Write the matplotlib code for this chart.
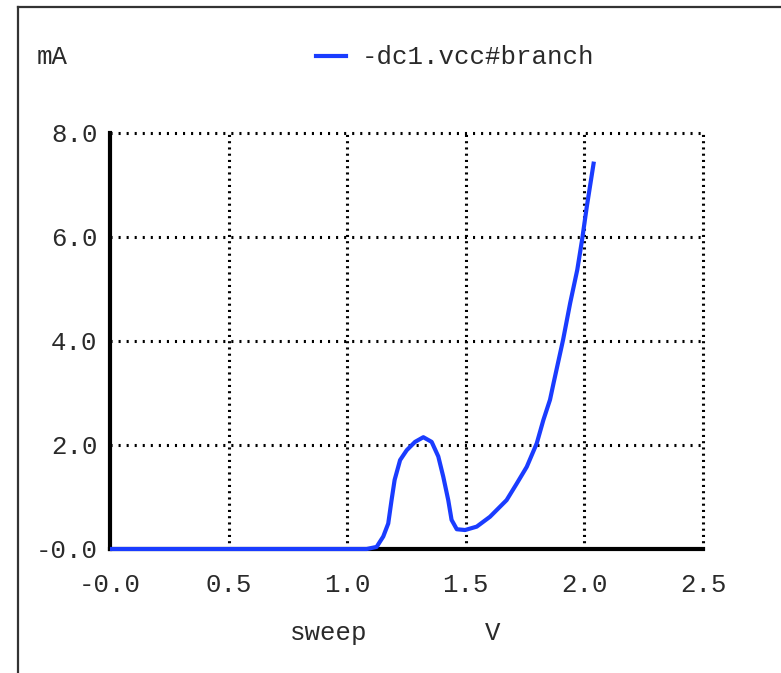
import matplotlib
matplotlib.use("Agg")
import matplotlib.pyplot as plt
from matplotlib.lines import Line2D

plt.rcParams['lines.scale_dashes'] = False

# DC sweep: supply voltage (V) vs. branch current (mA)
sweep_v = [0.00, 1.05, 1.082, 1.124, 1.152, 1.173, 1.187, 1.20, 1.223, 1.251,
           1.286, 1.321, 1.356, 1.384, 1.405, 1.426, 1.44, 1.462, 1.497,
           1.546, 1.602, 1.672, 1.715, 1.757, 1.799, 1.827, 1.855, 1.87,
           1.91, 1.94, 1.97, 1.99, 2.01, 2.04]
branch_ma = [0.00, 0.00, 0.00, 0.04, 0.24, 0.49, 0.94, 1.33, 1.71, 1.90,
             2.06, 2.15, 2.06, 1.78, 1.39, 0.94, 0.56, 0.38, 0.365,
             0.43, 0.62, 0.94, 1.26, 1.58, 2.03, 2.48, 2.87, 3.19,
             4.02, 4.73, 5.37, 5.94, 6.58, 7.45]

x_ticks = [0.0, 0.5, 1.0, 1.5, 2.0, 2.5]
x_tick_labels = ["-0.0", "0.5", "1.0", "1.5", "2.0", "2.5"]
y_ticks = [0.0, 2.0, 4.0, 6.0, 8.0]
y_tick_labels = ["-0.0", "2.0", "4.0", "6.0", "8.0"]

series_name = "-dc1.vcc#branch"
y_unit = "mA"
x_name = "sweep"
x_unit = "V"

W, H = 781, 673
font = "Liberation Mono"
fs = 18.5
txt = "#2a2a2a"
blue = "#1a3cff"

fig = plt.figure(figsize=(W / 100, H / 100), dpi=100)
fig.patch.set_facecolor("white")

# window frame
fig.add_artist(Line2D([18 / W, 18 / W], [0, 1 - 7 / H], transform=fig.transFigure,
                      color="#333333", lw=1.6))
fig.add_artist(Line2D([18 / W, 1], [1 - 7 / H, 1 - 7 / H], transform=fig.transFigure,
                      color="#333333", lw=1.6))

ax = fig.add_axes([110 / W, 1 - 549 / H, (703 - 110) / W, (549 - 133) / H])
ax.set_xlim(0, 2.5)
ax.set_ylim(0, 8.0)

# dotted grid, including the top and right edges
for xv in x_ticks[1:]:
    ax.plot([xv, xv], [0, 8.0], color="black", lw=2.2,
            linestyle=(0, (1.5, 3.0)), zorder=1, clip_on=False,
            dash_capstyle="butt")
for yv in y_ticks[1:]:
    ax.plot([0, 2.5], [yv, yv], color="black", lw=2.2,
            linestyle=(0, (1.5, 4.3)), zorder=1, clip_on=False,
            dash_capstyle="butt")

for s in ["top", "right"]:
    ax.spines[s].set_visible(False)
for s in ["left", "bottom"]:
    ax.spines[s].set_linewidth(3.0)
    ax.spines[s].set_color("black")
    ax.spines[s].set_zorder(2)

ax.plot(sweep_v, branch_ma, color=blue, lw=3.0, zorder=3, clip_on=False,
        solid_joinstyle="round", solid_capstyle="butt")

ax.set_xticks(x_ticks)
ax.set_xticklabels(x_tick_labels, fontfamily=font, fontsize=fs, color=txt)
ax.set_yticks(y_ticks)
ax.set_yticklabels(y_tick_labels, fontfamily=font, fontsize=fs, color=txt)
ax.tick_params(axis="y", length=0, pad=9)
ax.tick_params(axis="x", length=0, pad=17)

# header: unit and legend
fig.text(37 / W, 1 - 57 / H, y_unit, fontfamily=font, fontsize=fs,
         color=txt, va="center", ha="left")
fig.add_artist(Line2D([316 / W, 346 / W], [1 - 56 / H, 1 - 56 / H],
                      transform=fig.transFigure, color=blue, lw=3.0))
fig.text(362 / W, 1 - 57 / H, series_name, fontfamily=font, fontsize=fs,
         color=txt, va="center", ha="left")

# footer: sweep variable and unit
fig.text(290 / W, 1 - 633 / H, x_name, fontfamily=font, fontsize=fs,
         color=txt, va="center", ha="left")
fig.text(485 / W, 1 - 633 / H, x_unit, fontfamily=font, fontsize=fs,
         color=txt, va="center", ha="left")

fig.savefig("out.png", dpi=100)
